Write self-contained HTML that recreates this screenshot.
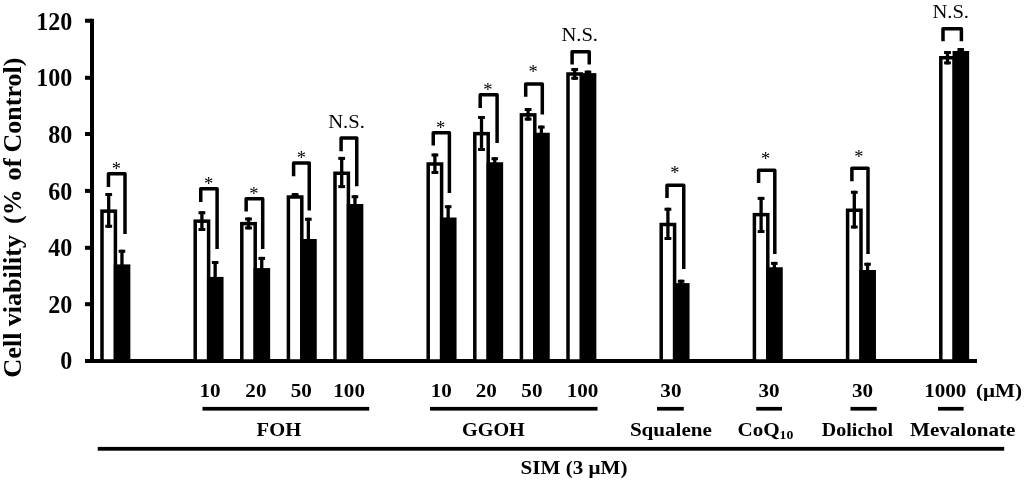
<!DOCTYPE html>
<html lang="en"><head><meta charset="utf-8"><title>Cell viability chart</title>
<style>
html,body{margin:0;padding:0;background:#fff;}
body{width:1024px;height:483px;overflow:hidden;}
svg{display:block;filter:blur(0.4px);}
text{font-family:"Liberation Serif","Times New Roman",serif;fill:#000;}
.yt{font-size:24.5px;font-weight:bold;}
.bl{font-size:20px;font-weight:bold;}
.sub{font-size:13px;font-weight:bold;}
.ns{font-size:20px;}
.as{font-size:18.5px;}
.ytitle{font-size:26px;font-weight:bold;}
</style></head><body>
<svg width="1024" height="483" viewBox="0 0 1024 483">
<rect width="1024" height="483" fill="#fff"/>
<rect x="90" y="18.8" width="4" height="344.2" fill="#000"/>
<rect x="85" y="359" width="892" height="4" fill="#000"/>
<text class="yt" transform="translate(72.2,369.20) scale(0.98,1)" text-anchor="end">0</text>
<rect x="85" y="302.20" width="7" height="4" fill="#000"/>
<text class="yt" transform="translate(72.2,312.85) scale(0.98,1)" text-anchor="end">20</text>
<rect x="85" y="245.80" width="7" height="4" fill="#000"/>
<text class="yt" transform="translate(72.2,256.00) scale(0.98,1)" text-anchor="end">40</text>
<rect x="85" y="188.90" width="7" height="4" fill="#000"/>
<text class="yt" transform="translate(72.2,199.85) scale(0.98,1)" text-anchor="end">60</text>
<rect x="85" y="132.00" width="7" height="4" fill="#000"/>
<text class="yt" transform="translate(72.2,142.85) scale(0.98,1)" text-anchor="end">80</text>
<rect x="85" y="75.80" width="7" height="4" fill="#000"/>
<text class="yt" transform="translate(72.2,85.70) scale(0.98,1)" text-anchor="end">100</text>
<rect x="85" y="18.75" width="7" height="4" fill="#000"/>
<text class="yt" transform="translate(72.2,29.80) scale(0.98,1)" text-anchor="end">120</text>
<rect x="102.00" y="211.15" width="13.40" height="149.85" fill="#fff" stroke="#000" stroke-width="3.5"/>
<rect x="113.75" y="264.40" width="16.6" height="96.60" fill="#000"/>
<rect x="107.05" y="193.00" width="3.3" height="34.75" fill="#000"/>
<rect x="105.30" y="193.00" width="6.8" height="3" fill="#000"/>
<rect x="105.30" y="224.75" width="6.8" height="3" fill="#000"/>
<rect x="120.30" y="249.75" width="3.3" height="15.65" fill="#000"/>
<rect x="118.65" y="249.75" width="6.6" height="3" fill="#000"/>
<path d="M108.45 186.90V173.65H125.00V234.00" fill="none" stroke="#000" stroke-width="3.5" stroke-linejoin="round"/>
<text class="as" x="116.25" y="175.30" text-anchor="middle">*</text>
<rect x="195.20" y="221.15" width="13.40" height="139.85" fill="#fff" stroke="#000" stroke-width="3.5"/>
<rect x="206.95" y="276.90" width="16.6" height="84.10" fill="#000"/>
<rect x="200.25" y="211.25" width="3.3" height="19.75" fill="#000"/>
<rect x="198.50" y="211.25" width="6.8" height="3" fill="#000"/>
<rect x="198.50" y="228.00" width="6.8" height="3" fill="#000"/>
<rect x="213.50" y="261.00" width="3.3" height="16.90" fill="#000"/>
<rect x="211.85" y="261.00" width="6.6" height="3" fill="#000"/>
<path d="M200.75 201.90V188.65H217.10V249.00" fill="none" stroke="#000" stroke-width="3.5" stroke-linejoin="round"/>
<text class="as" x="208.50" y="189.55" text-anchor="middle">*</text>
<rect x="241.80" y="223.65" width="13.40" height="137.35" fill="#fff" stroke="#000" stroke-width="3.5"/>
<rect x="253.55" y="268.10" width="16.6" height="92.90" fill="#000"/>
<rect x="246.85" y="217.50" width="3.3" height="11.90" fill="#000"/>
<rect x="245.10" y="217.50" width="6.8" height="3" fill="#000"/>
<rect x="245.10" y="226.40" width="6.8" height="3" fill="#000"/>
<rect x="260.10" y="256.90" width="3.3" height="12.20" fill="#000"/>
<rect x="258.45" y="256.90" width="6.6" height="3" fill="#000"/>
<path d="M246.15 211.50V198.65H262.70V249.00" fill="none" stroke="#000" stroke-width="3.5" stroke-linejoin="round"/>
<text class="as" x="253.75" y="199.55" text-anchor="middle">*</text>
<rect x="288.40" y="197.00" width="13.40" height="164.00" fill="#fff" stroke="#000" stroke-width="3.5"/>
<rect x="300.15" y="239.00" width="16.6" height="122.00" fill="#000"/>
<rect x="293.45" y="193.10" width="3.3" height="4.90" fill="#000"/>
<rect x="291.70" y="193.10" width="6.8" height="3" fill="#000"/>
<rect x="291.70" y="195.00" width="6.8" height="3" fill="#000"/>
<rect x="306.70" y="217.75" width="3.3" height="22.25" fill="#000"/>
<rect x="305.05" y="217.75" width="6.6" height="3" fill="#000"/>
<path d="M293.60 176.25V163.00H309.25V210.60" fill="none" stroke="#000" stroke-width="3.5" stroke-linejoin="round"/>
<text class="as" x="301.25" y="163.80" text-anchor="middle">*</text>
<rect x="335.00" y="173.25" width="13.40" height="187.75" fill="#fff" stroke="#000" stroke-width="3.5"/>
<rect x="346.75" y="204.00" width="16.6" height="157.00" fill="#000"/>
<rect x="340.05" y="156.90" width="3.3" height="31.20" fill="#000"/>
<rect x="338.30" y="156.90" width="6.8" height="3" fill="#000"/>
<rect x="338.30" y="185.10" width="6.8" height="3" fill="#000"/>
<rect x="353.30" y="195.25" width="3.3" height="9.75" fill="#000"/>
<rect x="351.65" y="195.25" width="6.6" height="3" fill="#000"/>
<path d="M341.10 151.25V138.00H356.75V186.25" fill="none" stroke="#000" stroke-width="3.5" stroke-linejoin="round"/>
<text class="ns" transform="translate(346.50,127.50) scale(1.03,0.96)" text-anchor="middle">N.S.</text>
<rect x="428.20" y="164.00" width="13.40" height="197.00" fill="#fff" stroke="#000" stroke-width="3.5"/>
<rect x="439.95" y="217.50" width="16.6" height="143.50" fill="#000"/>
<rect x="433.25" y="153.50" width="3.3" height="20.50" fill="#000"/>
<rect x="431.50" y="153.50" width="6.8" height="3" fill="#000"/>
<rect x="431.50" y="171.00" width="6.8" height="3" fill="#000"/>
<rect x="446.50" y="205.25" width="3.3" height="13.25" fill="#000"/>
<rect x="444.85" y="205.25" width="6.6" height="3" fill="#000"/>
<path d="M433.25 145.60V132.75H449.40V193.00" fill="none" stroke="#000" stroke-width="3.5" stroke-linejoin="round"/>
<text class="as" x="440.60" y="134.30" text-anchor="middle">*</text>
<rect x="474.80" y="133.65" width="13.40" height="227.35" fill="#fff" stroke="#000" stroke-width="3.5"/>
<rect x="486.55" y="162.25" width="16.6" height="198.75" fill="#000"/>
<rect x="479.85" y="116.00" width="3.3" height="35.00" fill="#000"/>
<rect x="478.10" y="116.00" width="6.8" height="3" fill="#000"/>
<rect x="478.10" y="148.00" width="6.8" height="3" fill="#000"/>
<rect x="493.10" y="157.25" width="3.3" height="6.00" fill="#000"/>
<rect x="491.45" y="157.25" width="6.6" height="3" fill="#000"/>
<path d="M480.20 108.10V94.85H497.10V143.10" fill="none" stroke="#000" stroke-width="3.5" stroke-linejoin="round"/>
<text class="as" x="487.75" y="96.20" text-anchor="middle">*</text>
<rect x="521.40" y="114.85" width="13.40" height="246.15" fill="#fff" stroke="#000" stroke-width="3.5"/>
<rect x="533.15" y="132.75" width="16.6" height="228.25" fill="#000"/>
<rect x="526.45" y="108.00" width="3.3" height="12.60" fill="#000"/>
<rect x="524.70" y="108.00" width="6.8" height="3" fill="#000"/>
<rect x="524.70" y="117.60" width="6.8" height="3" fill="#000"/>
<rect x="539.70" y="125.60" width="3.3" height="8.15" fill="#000"/>
<rect x="538.05" y="125.60" width="6.6" height="3" fill="#000"/>
<path d="M525.70 96.70V83.95H542.30V114.40" fill="none" stroke="#000" stroke-width="3.5" stroke-linejoin="round"/>
<text class="as" x="533.20" y="78.30" text-anchor="middle">*</text>
<rect x="568.00" y="74.00" width="13.40" height="287.00" fill="#fff" stroke="#000" stroke-width="3.5"/>
<rect x="579.75" y="73.10" width="16.6" height="287.90" fill="#000"/>
<rect x="573.05" y="68.00" width="3.3" height="11.75" fill="#000"/>
<rect x="571.30" y="68.00" width="6.8" height="3" fill="#000"/>
<rect x="571.30" y="76.75" width="6.8" height="3" fill="#000"/>
<rect x="586.30" y="70.60" width="3.3" height="3.50" fill="#000"/>
<rect x="584.65" y="70.60" width="6.6" height="3" fill="#000"/>
<path d="M572.10 64.40V51.75H589.25V64.40" fill="none" stroke="#000" stroke-width="3.5" stroke-linejoin="round"/>
<text class="ns" transform="translate(579.70,40.90) scale(1.03,0.96)" text-anchor="middle">N.S.</text>
<rect x="661.20" y="224.50" width="13.40" height="136.50" fill="#fff" stroke="#000" stroke-width="3.5"/>
<rect x="672.95" y="283.10" width="16.6" height="77.90" fill="#000"/>
<rect x="666.25" y="207.75" width="3.3" height="32.25" fill="#000"/>
<rect x="664.50" y="207.75" width="6.8" height="3" fill="#000"/>
<rect x="664.50" y="237.00" width="6.8" height="3" fill="#000"/>
<rect x="679.50" y="279.75" width="3.3" height="4.35" fill="#000"/>
<rect x="677.85" y="279.75" width="6.6" height="3" fill="#000"/>
<path d="M667.00 198.10V185.25H683.75V269.00" fill="none" stroke="#000" stroke-width="3.5" stroke-linejoin="round"/>
<text class="as" x="674.75" y="179.05" text-anchor="middle">*</text>
<rect x="754.40" y="214.65" width="13.40" height="146.35" fill="#fff" stroke="#000" stroke-width="3.5"/>
<rect x="766.15" y="267.25" width="16.6" height="93.75" fill="#000"/>
<rect x="759.45" y="196.90" width="3.3" height="36.10" fill="#000"/>
<rect x="757.70" y="196.90" width="6.8" height="3" fill="#000"/>
<rect x="757.70" y="230.00" width="6.8" height="3" fill="#000"/>
<rect x="772.70" y="261.90" width="3.3" height="6.35" fill="#000"/>
<rect x="771.05" y="261.90" width="6.6" height="3" fill="#000"/>
<path d="M758.60 183.10V170.25H774.80V254.00" fill="none" stroke="#000" stroke-width="3.5" stroke-linejoin="round"/>
<text class="as" x="765.60" y="164.90" text-anchor="middle">*</text>
<rect x="847.60" y="210.25" width="13.40" height="150.75" fill="#fff" stroke="#000" stroke-width="3.5"/>
<rect x="859.35" y="270.00" width="16.6" height="91.00" fill="#000"/>
<rect x="852.65" y="190.80" width="3.3" height="37.70" fill="#000"/>
<rect x="850.90" y="190.80" width="6.8" height="3" fill="#000"/>
<rect x="850.90" y="225.50" width="6.8" height="3" fill="#000"/>
<rect x="865.90" y="262.75" width="3.3" height="8.25" fill="#000"/>
<rect x="864.25" y="262.75" width="6.6" height="3" fill="#000"/>
<path d="M851.90 181.25V168.35H868.00V254.00" fill="none" stroke="#000" stroke-width="3.5" stroke-linejoin="round"/>
<text class="as" x="858.75" y="163.05" text-anchor="middle">*</text>
<rect x="940.80" y="57.75" width="13.40" height="303.25" fill="#fff" stroke="#000" stroke-width="3.5"/>
<rect x="952.55" y="51.00" width="16.6" height="310.00" fill="#000"/>
<rect x="945.85" y="51.00" width="3.3" height="13.40" fill="#000"/>
<rect x="944.10" y="51.00" width="6.8" height="3" fill="#000"/>
<rect x="944.10" y="61.40" width="6.8" height="3" fill="#000"/>
<rect x="959.10" y="48.10" width="3.3" height="3.90" fill="#000"/>
<rect x="957.45" y="48.10" width="6.6" height="3" fill="#000"/>
<path d="M943.00 41.25V28.65H961.40V41.25" fill="none" stroke="#000" stroke-width="3.5" stroke-linejoin="round"/>
<text class="ns" transform="translate(950.70,18.10) scale(1.03,0.96)" text-anchor="middle">N.S.</text>
<text class="bl" transform="translate(210.00,396.80) scale(1.055,0.96)" text-anchor="middle">10</text>
<text class="bl" transform="translate(255.90,396.80) scale(1.055,0.96)" text-anchor="middle">20</text>
<text class="bl" transform="translate(301.25,396.80) scale(1.055,0.96)" text-anchor="middle">50</text>
<text class="bl" transform="translate(349.10,396.80) scale(1.055,0.96)" text-anchor="middle">100</text>
<text class="bl" transform="translate(441.25,396.80) scale(1.055,0.96)" text-anchor="middle">10</text>
<text class="bl" transform="translate(486.25,396.80) scale(1.055,0.96)" text-anchor="middle">20</text>
<text class="bl" transform="translate(531.90,396.80) scale(1.055,0.96)" text-anchor="middle">50</text>
<text class="bl" transform="translate(582.50,396.80) scale(1.055,0.96)" text-anchor="middle">100</text>
<text class="bl" transform="translate(670.90,396.80) scale(1.055,0.96)" text-anchor="middle">30</text>
<text class="bl" transform="translate(769.10,396.80) scale(1.055,0.96)" text-anchor="middle">30</text>
<text class="bl" transform="translate(862.50,396.80) scale(1.055,0.96)" text-anchor="middle">30</text>
<text class="bl" transform="translate(945.25,396.80) scale(1.055,0.96)" text-anchor="middle">1000</text>
<text class="bl" transform="translate(999.00,396.80) scale(1.055,0.96)" text-anchor="middle">(μM)</text>
<rect x="202.50" y="406.90" width="166.75" height="3.7" fill="#000"/>
<rect x="430.00" y="406.90" width="167.50" height="3.7" fill="#000"/>
<rect x="657.00" y="406.90" width="26.75" height="3.7" fill="#000"/>
<rect x="756.25" y="406.90" width="25.75" height="3.7" fill="#000"/>
<rect x="850.50" y="406.90" width="26.25" height="3.7" fill="#000"/>
<rect x="938.00" y="406.90" width="25.60" height="3.7" fill="#000"/>
<rect x="97.75" y="446.90" width="906.45" height="3.8" fill="#000"/>
<text class="bl" transform="translate(278.90,435.50) scale(1.03,0.99)" text-anchor="middle">FOH</text>
<text class="bl" transform="translate(493.40,435.50) scale(1.01,0.99)" text-anchor="middle">GGOH</text>
<text class="bl" transform="translate(670.90,435.50) scale(1.055,0.99)" text-anchor="middle">Squalene</text>
<text class="bl" transform="translate(737.4,435.5) scale(1.055,0.99)">CoQ<tspan class="sub" dy="3.4">10</tspan></text>
<text class="bl" transform="translate(857.40,435.50) scale(1.0,0.99)" text-anchor="middle">Dolichol</text>
<text class="bl" transform="translate(962.70,435.50) scale(1.055,0.99)" text-anchor="middle">Mevalonate</text>
<text class="bl" transform="translate(574.00,474.30) scale(1.055,0.99)" text-anchor="middle">SIM (3 μM)</text>
<text class="ytitle" transform="translate(20.6,377.70) rotate(-90) scale(1.011,1)">Cell</text>
<text class="ytitle" transform="translate(20.6,326.25) rotate(-90) scale(1.004,1)">viability</text>
<text class="ytitle" transform="translate(20.6,223.90) rotate(-90) scale(1.0,1)">(%</text>
<text class="ytitle" transform="translate(20.6,180.70) rotate(-90) scale(1.038,1)">of</text>
<text class="ytitle" transform="translate(20.6,152.50) rotate(-90) scale(1.0,1)">Control)</text>
</svg>
</body></html>
